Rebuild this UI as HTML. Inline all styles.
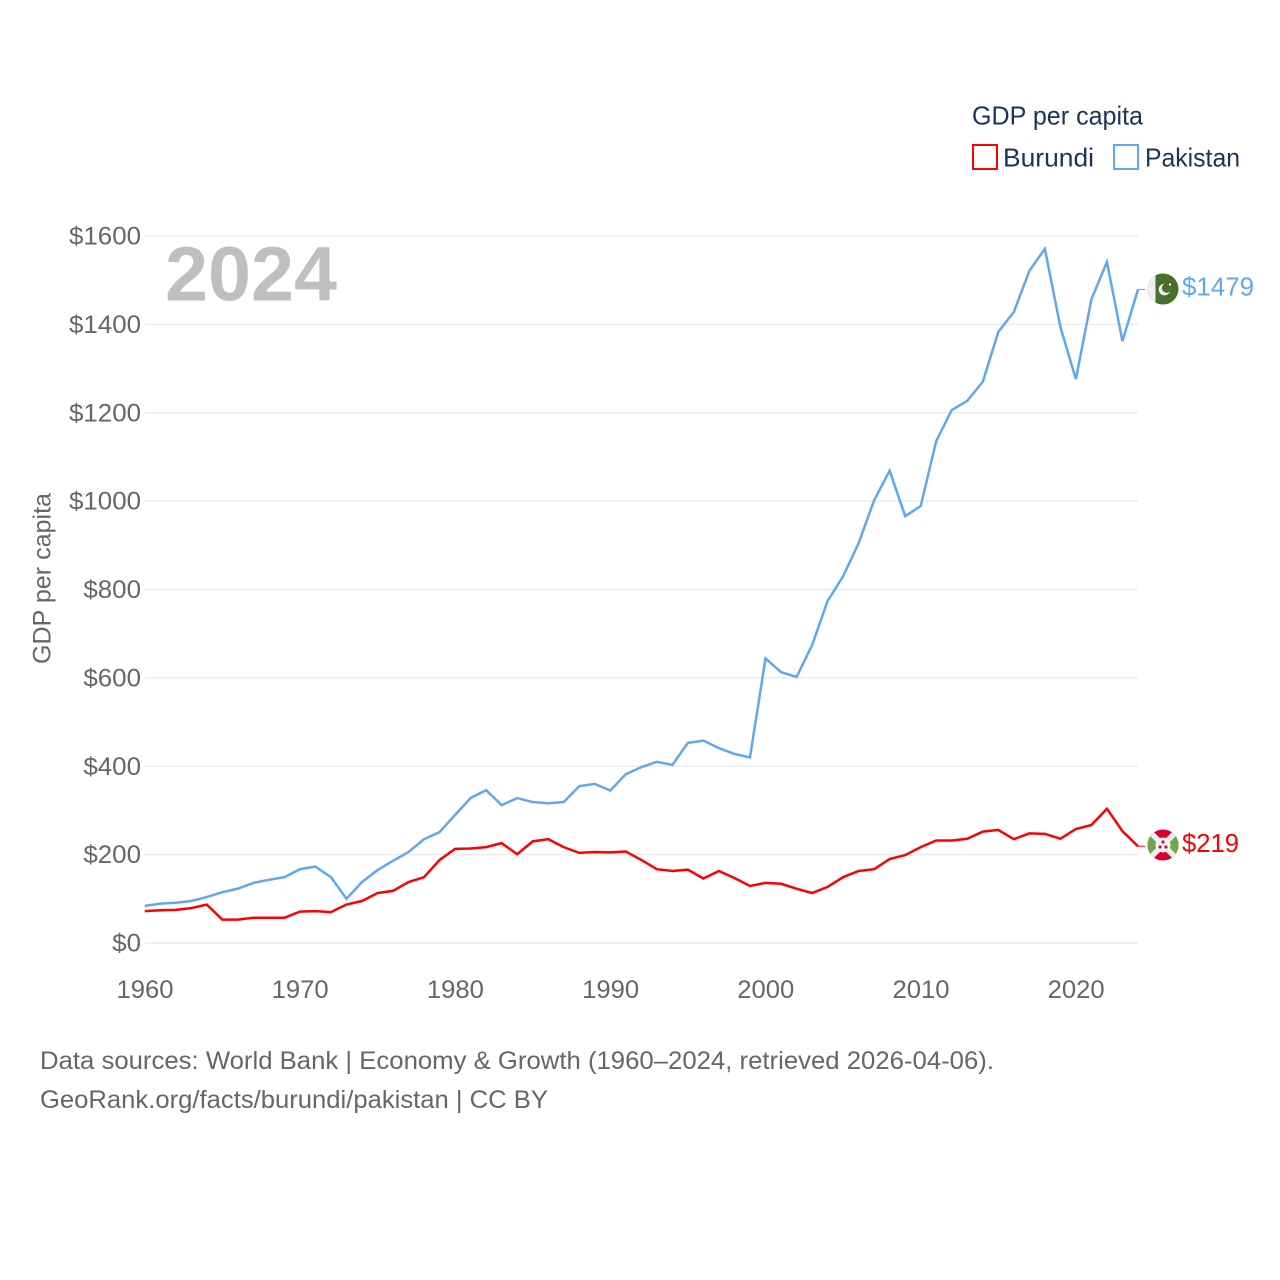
<!DOCTYPE html>
<html lang="en">
<head>
<meta charset="utf-8">
<title>GDP per capita: Burundi and Pakistan</title>
<style>
html,body{margin:0;padding:0;background:#fff;}
svg{display:block;}
text{font-family:"Liberation Sans",sans-serif;}
</style>
</head>
<body>
<svg id="chart" xmlns="http://www.w3.org/2000/svg" width="1280" height="1280" viewBox="0 0 1280 1280">
  <rect width="1280" height="1280" fill="#fff"/>
  <g id="grid"></g>
  <g id="yticks"></g>
  <g id="xticks"></g>
  <text x="165" y="300.5" font-size="77" font-weight="700" fill="#bfbfbf" textLength="172" lengthAdjust="spacingAndGlyphs">2024</text>
  <text transform="translate(50.5,664) rotate(-90)" font-size="25" fill="#666" textLength="171" lengthAdjust="spacingAndGlyphs">GDP per capita</text>
  <g id="series"></g>

  <defs>
    <clipPath id="clip-pk"><circle cx="1163" cy="289" r="15.5"/></clipPath>
    <clipPath id="clip-bi"><circle cx="1163" cy="845" r="15.5"/></clipPath>
  </defs>
  <g clip-path="url(#clip-pk)">
    <rect x="1147" y="273" width="32" height="32" fill="#4a6e2e"/>
    <rect x="1147" y="273" width="8.5" height="32" fill="#eeeeee"/>
    <circle cx="1164.5" cy="289.5" r="5.8" fill="#f2f2f2"/>
    <circle cx="1166.7" cy="288" r="4.8" fill="#4a6e2e"/>
    <circle cx="1170" cy="284.5" r="1.2" fill="#f2f2f2"/>
  </g>
  <g clip-path="url(#clip-bi)">
    <rect x="1147" y="829" width="32" height="32" fill="#d5002c"/>
    <polygon points="1147,829 1163,845 1147,861" fill="#6fa84a"/>
    <polygon points="1179,829 1163,845 1179,861" fill="#6fa84a"/>
    <line x1="1147" y1="829" x2="1179" y2="861" stroke="#eeeeee" stroke-width="5.5"/>
    <line x1="1179" y1="829" x2="1147" y2="861" stroke="#eeeeee" stroke-width="5.5"/>
    <circle cx="1163" cy="845" r="7.5" fill="#f2f2f2"/>
    <rect x="1161.6" y="840.6" width="2.8" height="2.8" fill="#d5002c"/>
    <rect x="1158.6" y="845.6" width="2.8" height="2.8" fill="#d5002c"/>
    <rect x="1164.6" y="845.6" width="2.8" height="2.8" fill="#d5002c"/>
  </g>
  <text id="label-pk" x="1182" y="295.5" font-size="26" fill="#60a8ee" textLength="72" lengthAdjust="spacingAndGlyphs"></text>
  <text id="label-bi" x="1182" y="852" font-size="26" fill="#ff0000" textLength="57" lengthAdjust="spacingAndGlyphs"></text>

  <g>
    <text x="972" y="124.5" font-size="26" fill="#1a3557" textLength="171" lengthAdjust="spacingAndGlyphs">GDP per capita</text>
    <g>
      <rect x="973" y="145" width="24" height="24" fill="#fff" stroke="#ff0000" stroke-width="2"/>
      <text x="1003" y="166.5" font-size="26" fill="#1a3557" textLength="91" lengthAdjust="spacingAndGlyphs">Burundi</text>
    </g>
    <g>
      <rect x="1114" y="145" width="24" height="24" fill="#fff" stroke="#60a8ee" stroke-width="2"/>
      <text x="1145" y="166.5" font-size="26" fill="#1a3557" textLength="95" lengthAdjust="spacingAndGlyphs">Pakistan</text>
    </g>
  </g>

  <text x="40" y="1069" font-size="25" fill="#666" textLength="954" lengthAdjust="spacingAndGlyphs">Data sources: World Bank | Economy &amp; Growth (1960–2024, retrieved 2026-04-06).</text>
  <text x="40" y="1108" font-size="25" fill="#666" textLength="508" lengthAdjust="spacingAndGlyphs">GeoRank.org/facts/burundi/pakistan | CC BY</text>
</svg>
<script>
const startYear = 1960;
const yTickValues = [0, 200, 400, 600, 800, 1000, 1200, 1400, 1600];
const xTickValues = [1960, 1970, 1980, 1990, 2000, 2010, 2020];
const pakistan = [84,89,91,95,104,115,123,136,143,149,167,173,149,100,138,165,186,206,235,251,290,328,346,312,328,319,316,319,355,360,345,382,398,410,403,453,458,441,428,420,644,613,602,674,774,830,905,1002,1069,966,989,1136,1206,1227,1270,1383,1428,1521,1571,1394,1276,1457,1541,1362,1479];
const burundi = [72,74,75,79,87,53,53,57,57,57,71,72,70,87,95,113,118,138,149,188,213,214,217,226,201,230,235,217,204,206,205,207,188,167,163,166,146,163,147,129,136,134,123,113,127,149,163,167,190,199,217,232,232,236,252,256,235,248,247,236,258,267,304,253,219];

const NS = 'http://www.w3.org/2000/svg';
const xScale = function (year) { return 144.7 + (year - 1960) * (1075.9 - 144.7) / 60; };
const yScale = function (value) { return 943 - value * (943 - 236) / 1600; };

const grid = document.getElementById('grid');
const yticks = document.getElementById('yticks');
const xticks = document.getElementById('xticks');
const seriesGroup = document.getElementById('series');

yTickValues.forEach(function (v) {
  const line = document.createElementNS(NS, 'line');
  
  
  line.setAttribute('x1', 145);
  line.setAttribute('x2', 1138);
  line.setAttribute('y1', yScale(v));
  line.setAttribute('y2', yScale(v));
  line.setAttribute('stroke', '#ececec');
  line.setAttribute('stroke-width', '1.6');
  grid.appendChild(line);

  const label = document.createElementNS(NS, 'text');
  
  
  const str = '$' + v;
  label.textContent = str;
  label.setAttribute('x', 141 - str.length * 14.4);
  label.setAttribute('y', yScale(v) + 8.5);
  label.setAttribute('font-size', '25');
  label.setAttribute('fill', '#666');
  label.setAttribute('textLength', str.length * 14.4);
  label.setAttribute('lengthAdjust', 'spacingAndGlyphs');
  yticks.appendChild(label);
});

xTickValues.forEach(function (y) {
  const label = document.createElementNS(NS, 'text');
  
  
  label.textContent = String(y);
  label.setAttribute('x', xScale(y) - 28.2);
  label.setAttribute('y', 998);
  label.setAttribute('font-size', '25');
  label.setAttribute('fill', '#666');
  label.setAttribute('textLength', '57');
  label.setAttribute('lengthAdjust', 'spacingAndGlyphs');
  xticks.appendChild(label);
});

function drawSeries(values, color, name) {
  const pts = values.map(function (v, i) {
    return xScale(startYear + i).toFixed(2) + ',' + yScale(v).toFixed(2);
  }).join(' ');
  const line = document.createElementNS(NS, 'polyline');
  
  
  line.setAttribute('points', pts);
  line.setAttribute('fill', 'none');
  line.setAttribute('stroke', color);
  line.setAttribute('stroke-width', '2.5');
  line.setAttribute('stroke-linejoin', 'miter');
  seriesGroup.appendChild(line);

  const last = values[values.length - 1];
  const lastX = xScale(startYear + values.length - 1);
  const conn = document.createElementNS(NS, 'line');
  
  
  conn.setAttribute('x1', lastX);
  conn.setAttribute('x2', lastX + 7);
  conn.setAttribute('y1', yScale(last));
  conn.setAttribute('y2', yScale(last));
  conn.setAttribute('stroke', color);
  conn.setAttribute('stroke-width', '1');
  seriesGroup.appendChild(conn);
}
drawSeries(pakistan, '#60a8ee', 'pakistan-line');
drawSeries(burundi, '#ff0000', 'burundi-line');

document.getElementById('label-pk').textContent = '$' + pakistan[pakistan.length - 1];
document.getElementById('label-bi').textContent = '$' + burundi[burundi.length - 1];
</script>
</body>
</html>
